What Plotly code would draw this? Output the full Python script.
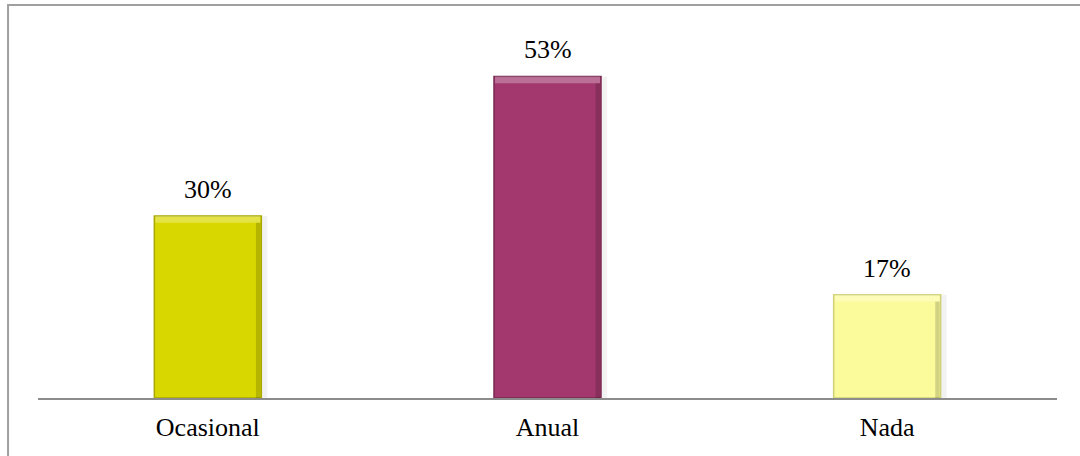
import plotly.graph_objects as go

categories = ["Ocasional", "Anual", "Nada"]
shares = [30, 53, 17]
bar_colors = ["#D8D800", "#A3386E", "#FBFB9C"]
edge_colors = ["#A8A800", "#7A2852", "#D0D078"]
value_labels = [f"{v}%" for v in shares]

FONT = "Liberation Serif, Times New Roman, serif"
BAR_W = 0.315
BEVEL = 1.1  # height of the lighter top bevel, in percentage points

fig = go.Figure()

# soft drop shadow behind each bar
fig.add_trace(go.Bar(
    x=categories, y=shares, width=0.33, offset=-0.155,
    marker=dict(color="rgba(0,0,0,0.05)", line=dict(width=0)),
    hoverinfo="skip", showlegend=False,
))

# main bars
fig.add_trace(go.Bar(
    x=categories, y=shares, width=BAR_W,
    marker=dict(color=bar_colors, line=dict(color=edge_colors, width=1.5)),
    showlegend=False,
))

# bevel: light band along the top of each bar
fig.add_trace(go.Bar(
    x=categories, y=[BEVEL] * len(shares), base=[v - BEVEL for v in shares],
    width=BAR_W - 0.006,
    marker=dict(color="rgba(255,255,255,0.28)", line=dict(width=0)),
    hoverinfo="skip", showlegend=False,
))

# bevel: darker strip along the right side of each bar
fig.add_trace(go.Bar(
    x=categories, y=[v - BEVEL for v in shares],
    width=0.013, offset=BAR_W / 2 - 0.016,
    marker=dict(color="rgba(0,0,0,0.16)", line=dict(width=0)),
    hoverinfo="skip", showlegend=False,
))

# percentage labels above the bars
annotations = [
    dict(x=c, y=v, text=t, xref="x", yref="y", showarrow=False,
         yanchor="bottom", yshift=10,
         font=dict(family=FONT, size=26, color="#000000"))
    for c, v, t in zip(categories, shares, value_labels)
]

fig.update_layout(
    barmode="overlay",
    width=1080, height=456,
    margin=dict(l=38, r=23, t=34, b=58),
    paper_bgcolor="white", plot_bgcolor="white",
    font=dict(family=FONT, size=26, color="#000000"),
    xaxis=dict(
        showline=True, linecolor="#8C8C8C", linewidth=2,
        showgrid=False, ticks="", tickfont=dict(family=FONT, size=26),
        ticklabelstandoff=5,
    ),
    yaxis=dict(
        range=[0, 60], visible=False, showgrid=False, zeroline=False,
    ),
    annotations=annotations,
    shapes=[dict(
        type="rect", xref="paper", yref="paper",
        x0=-0.0294, x1=1.03, y0=-0.2, y1=1.0797,
        line=dict(color="#A0A0A0", width=2), fillcolor="rgba(0,0,0,0)",
        layer="below",
    )],
)

fig.write_html("out.html")
